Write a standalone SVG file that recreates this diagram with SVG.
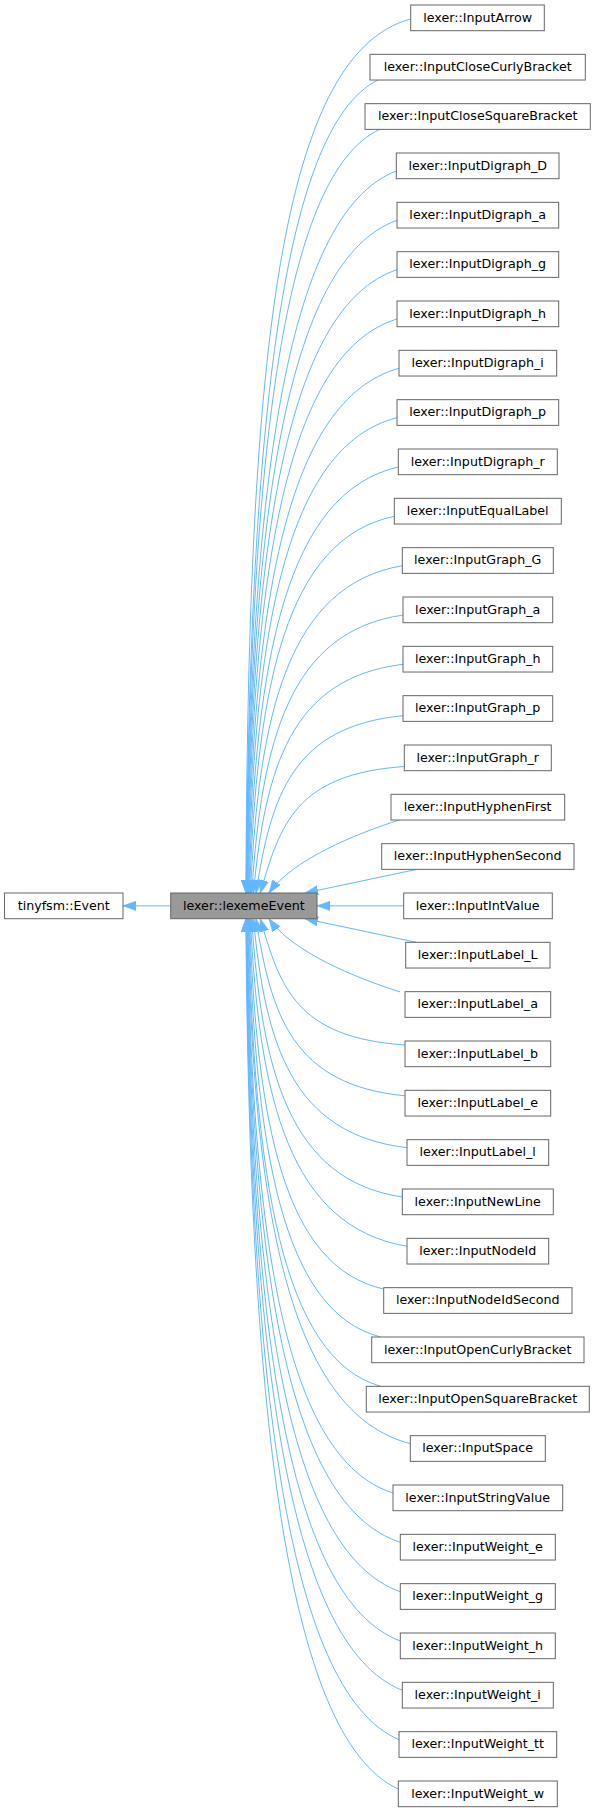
<svg xmlns="http://www.w3.org/2000/svg" width="596" height="1812" viewBox="0 0 596 1812">
<style>
.n rect{fill:#ffffff;stroke:#666666;stroke-width:1}
.n.hl rect{fill:#999999}
.n text{font-family:"DejaVu Sans","Liberation Sans",sans-serif;font-size:12.67px;fill:#000000;text-anchor:middle}
.e path{fill:none;stroke:#63b8ff;stroke-width:1;marker-end:url(#ah)}
</style>
<defs>
<marker id="ah" viewBox="0 0 13 10" refX="13" refY="5" markerWidth="13" markerHeight="10" markerUnits="userSpaceOnUse" orient="auto"><path d="M0,0.3L13,5L0,9.7z" fill="#63b8ff" stroke="#63b8ff" stroke-width="0.6"/></marker>
</defs>
<rect width="596" height="1812" fill="#ffffff"/>
<g id="edges" class="e">
<path d="M170.7,905.85L123,905.85"/>
<path d="M410.7,19C275,55 248,380 245.9,893"/>
<path d="M378,80C279.1,128.8 249.6,445.9 246.1,893"/>
<path d="M380,129.3C279.7,175.1 250.05,473 246.3,893"/>
<path d="M396.3,171C283.95,214.3 250.5,495.9 246.5,893"/>
<path d="M397,220.3C284.3,260.7 251,523 246.7,893"/>
<path d="M397,269.7C284.5,307.1 251.6,550.2 247,893"/>
<path d="M397,319C284.7,353.4 252.3,577.3 247.3,893"/>
<path d="M399,368.3C285.5,399.8 253.2,604.4 247.7,893"/>
<path d="M397,417.7C285.4,446.2 254.2,631.6 248.2,893"/>
<path d="M398.3,467C286.2,492.6 255.5,658.7 248.8,893"/>
<path d="M394.3,516.3C285.7,538.9 257,685.8 249.5,893"/>
<path d="M402.3,565.7C288.4,585.3 259,713 250.4,893"/>
<path d="M403,615C289.5,631.7 261.7,740.1 251.7,893"/>
<path d="M403,664.3C290.8,678 265.4,767.2 253.4,893"/>
<path d="M403,715.7C292.75,726.3 271,795.5 256,893"/>
<path d="M404.3,766.5C296.3,774.1 280.3,823.4 260.3,893"/>
<path d="M400,819.8C355,834 292,860 269,893"/>
<path d="M417,869.3L305,893"/>
<path d="M403.7,905.85L317,905.85"/>
<path d="M416.7,942.4L305,918.7"/>
<path d="M400,991.9C355,977.7 292,951.7 269,918.7"/>
<path d="M405,1045C296.5,1037.4 280.3,988.2 260.3,918.7"/>
<path d="M405,1095.8C293.25,1085.2 271,1016.1 256,918.7"/>
<path d="M407,1147.7C291.8,1134 265.4,1044.6 253.4,918.7"/>
<path d="M402.3,1197C289.35,1180.3 261.7,1071.8 251.7,918.7"/>
<path d="M407,1246.3C289.55,1226.6 259,1098.9 250.4,918.7"/>
<path d="M383.7,1289C283.05,1266.8 257,1122.4 249.5,918.7"/>
<path d="M380.7,1337C281.8,1311.9 255.5,1148.8 248.8,918.7"/>
<path d="M380.7,1386.3C281.3,1358.2 254.2,1175.9 248.2,918.7"/>
<path d="M410.3,1443.7C288.35,1412.2 253.2,1207.4 247.7,918.7"/>
<path d="M393,1493C283.7,1458.5 252.3,1234.6 247.3,918.7"/>
<path d="M400.3,1542.3C285.3,1504.9 251.6,1261.7 247,918.7"/>
<path d="M400.3,1591.7C285.1,1551.3 251,1288.8 246.7,918.7"/>
<path d="M400.3,1641C284.95,1597.7 250.5,1316 246.5,918.7"/>
<path d="M402.3,1690.3C285.3,1644 250,1343.1 246.25,918.7"/>
<path d="M399,1739.7C284.3,1690.4 249.6,1370.2 246.1,918.7"/>
<path d="M398.3,1789C284,1736.8 249.2,1397.4 245.9,918.7"/>
</g>
<g id="tinyfsm_Event" class="n"><rect x="4.5" y="893" width="118.5" height="25.7"/><text x="63.75" y="909.5">tinyfsm::Event</text></g>
<g id="lexemeEvent" class="n hl"><rect x="170.7" y="893" width="146.3" height="25.7"/><text x="243.85" y="909.5">lexer::lexemeEvent</text></g>
<g id="InputArrow" class="n"><rect x="410.7" y="5" width="133.6" height="25.7"/><text x="477.7" y="21.5">lexer::InputArrow</text></g>
<g id="InputCloseCurlyBracket" class="n"><rect x="370" y="54.33" width="215.3" height="25.7"/><text x="477.7" y="70.83">lexer::InputCloseCurlyBracket</text></g>
<g id="InputCloseSquareBracket" class="n"><rect x="365" y="103.67" width="225.3" height="25.7"/><text x="477.7" y="120.17">lexer::InputCloseSquareBracket</text></g>
<g id="InputDigraph_D" class="n"><rect x="396.3" y="153" width="162.7" height="25.7"/><text x="477.7" y="169.5">lexer::InputDigraph_D</text></g>
<g id="InputDigraph_a" class="n"><rect x="397" y="202.33" width="161.7" height="25.7"/><text x="477.7" y="218.83">lexer::InputDigraph_a</text></g>
<g id="InputDigraph_g" class="n"><rect x="397" y="251.67" width="161.7" height="25.7"/><text x="477.7" y="268.17">lexer::InputDigraph_g</text></g>
<g id="InputDigraph_h" class="n"><rect x="397" y="301" width="161.7" height="25.7"/><text x="477.7" y="317.5">lexer::InputDigraph_h</text></g>
<g id="InputDigraph_i" class="n"><rect x="399" y="350.33" width="157.7" height="25.7"/><text x="477.7" y="366.83">lexer::InputDigraph_i</text></g>
<g id="InputDigraph_p" class="n"><rect x="397" y="399.67" width="161.7" height="25.7"/><text x="477.7" y="416.17">lexer::InputDigraph_p</text></g>
<g id="InputDigraph_r" class="n"><rect x="398.3" y="449" width="159" height="25.7"/><text x="477.7" y="465.5">lexer::InputDigraph_r</text></g>
<g id="InputEqualLabel" class="n"><rect x="394.3" y="498.33" width="167" height="25.7"/><text x="477.7" y="514.83">lexer::InputEqualLabel</text></g>
<g id="InputGraph_G" class="n"><rect x="402.3" y="547.67" width="151" height="25.7"/><text x="477.7" y="564.17">lexer::InputGraph_G</text></g>
<g id="InputGraph_a" class="n"><rect x="403" y="597" width="149.7" height="25.7"/><text x="477.7" y="613.5">lexer::InputGraph_a</text></g>
<g id="InputGraph_h" class="n"><rect x="403" y="646.33" width="149.7" height="25.7"/><text x="477.7" y="662.83">lexer::InputGraph_h</text></g>
<g id="InputGraph_p" class="n"><rect x="403" y="695.67" width="149.7" height="25.7"/><text x="477.7" y="712.17">lexer::InputGraph_p</text></g>
<g id="InputGraph_r" class="n"><rect x="404.3" y="745" width="147" height="25.7"/><text x="477.7" y="761.5">lexer::InputGraph_r</text></g>
<g id="InputHyphenFirst" class="n"><rect x="391" y="794.33" width="173.7" height="25.7"/><text x="477.7" y="810.83">lexer::InputHyphenFirst</text></g>
<g id="InputHyphenSecond" class="n"><rect x="381.7" y="843.67" width="192.3" height="25.7"/><text x="477.7" y="860.17">lexer::InputHyphenSecond</text></g>
<g id="InputIntValue" class="n"><rect x="403.7" y="893" width="148.6" height="25.7"/><text x="477.7" y="909.5">lexer::InputIntValue</text></g>
<g id="InputLabel_L" class="n"><rect x="405.7" y="942.33" width="144.3" height="25.7"/><text x="477.7" y="958.83">lexer::InputLabel_L</text></g>
<g id="InputLabel_a" class="n"><rect x="405" y="991.67" width="145.7" height="25.7"/><text x="477.7" y="1008.17">lexer::InputLabel_a</text></g>
<g id="InputLabel_b" class="n"><rect x="405" y="1041" width="145.7" height="25.7"/><text x="477.7" y="1057.5">lexer::InputLabel_b</text></g>
<g id="InputLabel_e" class="n"><rect x="405" y="1090.33" width="145.7" height="25.7"/><text x="477.7" y="1106.83">lexer::InputLabel_e</text></g>
<g id="InputLabel_l" class="n"><rect x="407" y="1139.67" width="141.7" height="25.7"/><text x="477.7" y="1156.17">lexer::InputLabel_l</text></g>
<g id="InputNewLine" class="n"><rect x="402.3" y="1189" width="151" height="25.7"/><text x="477.7" y="1205.5">lexer::InputNewLine</text></g>
<g id="InputNodeId" class="n"><rect x="407" y="1238.33" width="141.7" height="25.7"/><text x="477.7" y="1254.83">lexer::InputNodeId</text></g>
<g id="InputNodeIdSecond" class="n"><rect x="383.7" y="1287.67" width="188.3" height="25.7"/><text x="477.7" y="1304.17">lexer::InputNodeIdSecond</text></g>
<g id="InputOpenCurlyBracket" class="n"><rect x="371.7" y="1337" width="212.3" height="25.7"/><text x="477.7" y="1353.5">lexer::InputOpenCurlyBracket</text></g>
<g id="InputOpenSquareBracket" class="n"><rect x="366.3" y="1386.33" width="223" height="25.7"/><text x="477.7" y="1402.83">lexer::InputOpenSquareBracket</text></g>
<g id="InputSpace" class="n"><rect x="410.3" y="1435.67" width="135" height="25.7"/><text x="477.7" y="1452.17">lexer::InputSpace</text></g>
<g id="InputStringValue" class="n"><rect x="393" y="1485" width="169.7" height="25.7"/><text x="477.7" y="1501.5">lexer::InputStringValue</text></g>
<g id="InputWeight_e" class="n"><rect x="400.3" y="1534.33" width="155" height="25.7"/><text x="477.7" y="1550.83">lexer::InputWeight_e</text></g>
<g id="InputWeight_g" class="n"><rect x="400.3" y="1583.67" width="155" height="25.7"/><text x="477.7" y="1600.17">lexer::InputWeight_g</text></g>
<g id="InputWeight_h" class="n"><rect x="400.3" y="1633" width="155" height="25.7"/><text x="477.7" y="1649.5">lexer::InputWeight_h</text></g>
<g id="InputWeight_i" class="n"><rect x="402.3" y="1682.33" width="151" height="25.7"/><text x="477.7" y="1698.83">lexer::InputWeight_i</text></g>
<g id="InputWeight_tt" class="n"><rect x="399" y="1731.67" width="157.7" height="25.7"/><text x="477.7" y="1748.17">lexer::InputWeight_tt</text></g>
<g id="InputWeight_w" class="n"><rect x="398.3" y="1781" width="159" height="25.7"/><text x="477.7" y="1797.5">lexer::InputWeight_w</text></g>
</svg>
